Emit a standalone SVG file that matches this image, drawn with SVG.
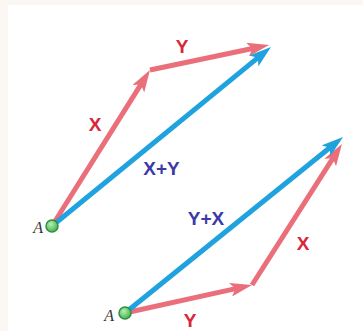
<svg xmlns="http://www.w3.org/2000/svg" width="363" height="331" viewBox="0 0 363 331">
<defs>
<style>
.red{stroke:#ea6f7b;stroke-width:5;fill:none}
.blue{stroke:#1fa2dd;stroke-width:5;fill:none}
.lr{font-family:"Liberation Sans",Arial,sans-serif;font-size:19px;font-weight:bold;fill:#d9263a;text-anchor:middle}
.lb{font-family:"Liberation Sans",Arial,sans-serif;font-size:19px;font-weight:bold;fill:#3b3aa6;text-anchor:middle}
.la{font-family:"Liberation Serif","Times New Roman",serif;font-size:16px;font-style:italic;fill:#333;text-anchor:end}
.dot{fill:url(#g);stroke:#2f8f3f;stroke-width:1.5}
</style>
<radialGradient id="g" cx="0.4" cy="0.35" r="0.7">
<stop offset="0" stop-color="#b6f0b0"/>
<stop offset="1" stop-color="#3fae4c"/>
</radialGradient>
<marker id="hr" markerUnits="userSpaceOnUse" viewBox="0 0 22 14" markerWidth="22" markerHeight="14" refX="10" refY="7" orient="auto">
<path d="M0,0 L22,7 L0,14 L5,7 Z" fill="#ea6f7b"/>
</marker>
<marker id="hb" markerUnits="userSpaceOnUse" viewBox="0 0 22 14" markerWidth="22" markerHeight="14" refX="10" refY="7" orient="auto">
<path d="M0,0 L22,7 L0,14 L5,7 Z" fill="#1fa2dd"/>
</marker>
</defs>
<rect width="363" height="331" fill="#fbf8f3"/>
<rect x="8" y="5" width="355" height="326" fill="#ffffff"/>
<g id="connectors">
<line id="top-x" class="red" x1="52" y1="226" x2="143.6" y2="80.2" marker-end="url(#hr)"/>
<line id="top-y" class="red" x1="150" y1="70" x2="257.3" y2="47.5" marker-end="url(#hr)"/>
<line id="top-sum" class="blue" x1="52" y1="226" x2="261.7" y2="54.6" marker-end="url(#hb)"/>
<line id="bot-y" class="red" x1="125" y1="313" x2="240.3" y2="287.6" marker-end="url(#hr)"/>
<line id="bot-x" class="red" x1="252" y1="285" x2="335.5" y2="154.1" marker-end="url(#hr)"/>
<line id="bot-sum" class="blue" x1="125" y1="313" x2="333.7" y2="144.5" marker-end="url(#hb)"/>
</g>
<g id="labels">
<text class="lr" x="182" y="53">Y</text>
<text class="lr" x="95" y="131">X</text>
<text class="lb" x="161.5" y="175">X+Y</text>
<text class="lb" x="206" y="225">Y+X</text>
<text class="lr" x="303" y="250">X</text>
<text class="lr" x="190" y="327">Y</text>
</g>
<g id="pointA-top">
<circle class="dot" cx="52" cy="226" r="6"/>
<text class="la" x="43" y="233">A</text>
</g>
<g id="pointA-bottom">
<circle class="dot" cx="125" cy="313" r="6"/>
<text class="la" x="114" y="321">A</text>
</g>
</svg>
